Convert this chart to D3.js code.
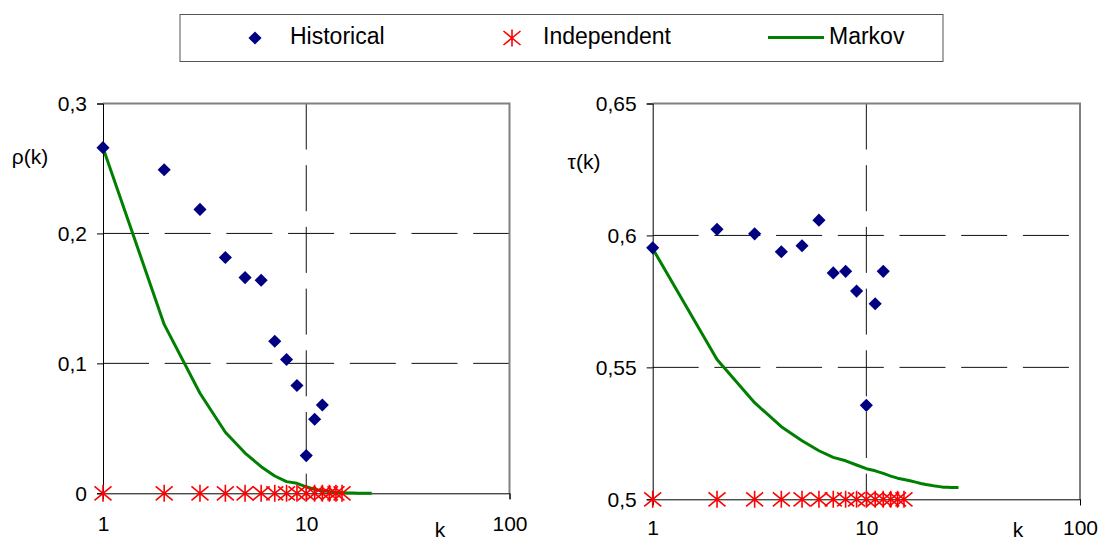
<!DOCTYPE html>
<html>
<head>
<meta charset="utf-8">
<script src="https://cdn.jsdelivr.net/npm/d3@7"></script>
<style>
  body { margin: 0; background: #fff; }
  svg { display: block; }
</style>
</head>
<body>
<div class="js-chart"></div>
<script>
'use strict';

// lag k for each series
const histK = [1, 2, 3, 4, 5, 6, 7, 8, 9, 10, 11, 12];
const indepK = [1, 2, 3, 4, 5, 6, 7, 8, 9, 10, 11, 12, 13, 14, 15];
const rhoMarkovK = d3.range(1, 22);
const tauMarkovK = d3.range(1, 28);

// left panel: rho(k)
const rhoHistorical = [0.266, 0.249, 0.2185, 0.1815, 0.166, 0.164, 0.117, 0.103, 0.083, 0.029, 0.057, 0.068];
const rhoIndependent = [0, 0, 0, 0, 0, 0, 0, 0, 0, 0, 0, 0, 0, 0, 0];
const rhoMarkov = [0.266, 0.130, 0.077, 0.047, 0.031, 0.0205, 0.0133, 0.009, 0.0077, 0.005,
    0.003, 0.002, 0.0013, 0.0008, 0.0005, 0.0003, 0.0002, 0.0001, 0.0001, 0, 0];

// right panel: tau(k)
const tauHistorical = [0.5953, 0.6023, 0.6006, 0.5938, 0.5961, 0.6058, 0.5858, 0.5864, 0.5789, 0.5356, 0.5741, 0.5864];
const tauIndependent = [0.5, 0.5, 0.5, 0.5, 0.5, 0.5, 0.5, 0.5, 0.5, 0.5, 0.5, 0.5, 0.5, 0.5, 0.5];
const tauMarkov = [0.595, 0.553, 0.5366, 0.5275, 0.5222, 0.5184, 0.5159, 0.5146, 0.513, 0.5116,
    0.5108, 0.5098, 0.5088, 0.508, 0.5075, 0.507, 0.5065, 0.506, 0.5056, 0.5053,
    0.505, 0.5048, 0.5046, 0.5046, 0.5045, 0.5045, 0.5045];

const xTicks = [1, 10, 100];
const rhoTicks = [0, 0.1, 0.2, 0.3];
const tauTicks = [0.5, 0.55, 0.6, 0.65];

const legendNames = ["Historical", "Independent", "Markov"];

const FONT = "'Liberation Sans', Arial, sans-serif";
const HIST_COLOR = "#000080";
const INDEP_COLOR = "#ff0000";
const MARKOV_COLOR = "#008000";

const svg = d3.select(".js-chart")
    .append("svg")
    .attr("width", 1102)
    .attr("height", 540);

const commaFormat = function(v) {
    return String(+v.toFixed(2)).replace('.', ',');
};

// excel-like star: an X with a vertical bar through it
const starPath = "M-8.5,-7L8.5,7M-8.5,7L8.5,-7M0,-8.5L0,8.5";
const diamondPath = d3.symbol().type(d3.symbolSquare).size(86)();

function drawPanel(cfg) {

    const xScale = d3.scaleLog()
        .domain([1, 100])
        .range([cfg.left, cfg.right]);

    const yScale = d3.scaleLinear()
        .domain(cfg.yDomain)
        .range([cfg.bottom, cfg.top]);

    const g = svg.append("g");

    // dashed gridlines (inner ticks only)
    g.selectAll("line.hgrid")
        .data(cfg.yTicks.slice(1, -1))
        .enter()
        .append("line")
        .attr("class", "hgrid")
        .attr("x1", cfg.left)
        .attr("x2", cfg.right)
        .attr("y1", d => yScale(d))
        .attr("y2", d => yScale(d))
        .attr("stroke", "#111")
        .attr("stroke-dasharray", "46,15.7");

    g.append("line")
        .attr("x1", xScale(10))
        .attr("x2", xScale(10))
        .attr("y1", cfg.top)
        .attr("y2", cfg.bottom)
        .attr("stroke", "#111")
        .attr("stroke-dasharray", "46,15.7");

    // plot border top / right (grey)
    g.append("path")
        .attr("d", `M${cfg.left},${cfg.top}H${cfg.right}V${cfg.bottom}`)
        .attr("fill", "none")
        .attr("stroke", "#808080")
        .attr("stroke-width", 2);

    // axes
    const yAxis = d3.axisLeft(yScale)
        .tickValues(cfg.yTicks)
        .tickSize(6)
        .tickFormat(commaFormat);

    const xAxis = d3.axisBottom(xScale)
        .tickValues(xTicks)
        .tickSize(6)
        .tickFormat(d3.format("d"));

    const yG = g.append("g")
        .attr("transform", `translate(${cfg.left},0)`)
        .call(yAxis);

    const xG = g.append("g")
        .attr("transform", `translate(0,${cfg.bottom})`)
        .call(xAxis);

    [yG, xG].forEach(function(a) {
        a.select(".domain").attr("stroke", "#000");
        a.selectAll(".tick line").attr("stroke", "#000");
        a.selectAll("text")
            .attr("font-family", FONT)
            .attr("font-size", "21px")
            .attr("fill", "#000");
    });
    yG.selectAll("text").attr("x", -16);
    xG.selectAll("text").attr("y", 0).attr("dy", cfg.xLabelDy);

    // axis titles
    g.append("text")
        .text(cfg.yLabel)
        .attr("x", cfg.yLabelX)
        .attr("y", cfg.yLabelY)
        .attr("text-anchor", "middle")
        .attr("font-family", FONT)
        .attr("font-size", "21px");

    g.append("text")
        .text("k")
        .attr("x", cfg.kX)
        .attr("y", 537)
        .attr("text-anchor", "middle")
        .attr("font-family", FONT)
        .attr("font-size", "21px");

    // Markov line
    const line = d3.line()
        .x((d, i) => xScale(cfg.markovK[i]))
        .y(d => yScale(d));

    g.append("path")
        .datum(cfg.markov)
        .attr("d", line)
        .attr("fill", "none")
        .attr("stroke", MARKOV_COLOR)
        .attr("stroke-width", 3)
        .attr("stroke-linejoin", "round");

    // Independent stars
    g.selectAll("path.indep")
        .data(cfg.independent)
        .enter()
        .append("path")
        .attr("class", "indep")
        .attr("d", starPath)
        .attr("transform", (d, i) => `translate(${xScale(indepK[i])},${yScale(d)})`)
        .attr("fill", "none")
        .attr("stroke", INDEP_COLOR)
        .attr("stroke-width", 1.6);

    // Historical diamonds
    g.selectAll("path.hist")
        .data(cfg.historical)
        .enter()
        .append("path")
        .attr("class", "hist")
        .attr("d", diamondPath)
        .attr("transform", (d, i) => `translate(${xScale(histK[i])},${yScale(d)}) rotate(45)`)
        .attr("fill", HIST_COLOR);
}

drawPanel({
    left: 103, right: 509.5, top: 103.5, bottom: 493.3,
    yDomain: [0, 0.3], yTicks: rhoTicks,
    historical: rhoHistorical, independent: rhoIndependent,
    markov: rhoMarkov, markovK: rhoMarkovK,
    yLabel: "ρ(k)", yLabelX: 30, yLabelY: 164,
    kX: 440, xLabelDy: 38
});

drawPanel({
    left: 652.7, right: 1080, top: 103.5, bottom: 499.3,
    yDomain: [0.5, 0.65], yTicks: tauTicks,
    historical: tauHistorical, independent: tauIndependent,
    markov: tauMarkov, markovK: tauMarkovK,
    yLabel: "τ(k)", yLabelX: 584, yLabelY: 169,
    kX: 1018, xLabelDy: 36
});

// legend
const legend = svg.append("g");

legend.append("rect")
    .attr("x", 180)
    .attr("y", 14.5)
    .attr("width", 763)
    .attr("height", 47)
    .attr("fill", "#fff")
    .attr("stroke", "#555");

legend.append("path")
    .attr("d", diamondPath)
    .attr("transform", "translate(255,38) rotate(45)")
    .attr("fill", HIST_COLOR);

legend.append("path")
    .attr("d", starPath)
    .attr("transform", "translate(512,38)")
    .attr("fill", "none")
    .attr("stroke", INDEP_COLOR)
    .attr("stroke-width", 1.6);

legend.append("line")
    .attr("x1", 768)
    .attr("x2", 824)
    .attr("y1", 37.5)
    .attr("y2", 37.5)
    .attr("stroke", MARKOV_COLOR)
    .attr("stroke-width", 3);

const legendX = [290, 543, 829];
legend.selectAll("text")
    .data(legendNames)
    .enter()
    .append("text")
    .text(d => d)
    .attr("x", (d, i) => legendX[i])
    .attr("y", 44)
    .attr("font-family", FONT)
    .attr("font-size", "23px")
    .attr("fill", "#000");
</script>
</body>
</html>
